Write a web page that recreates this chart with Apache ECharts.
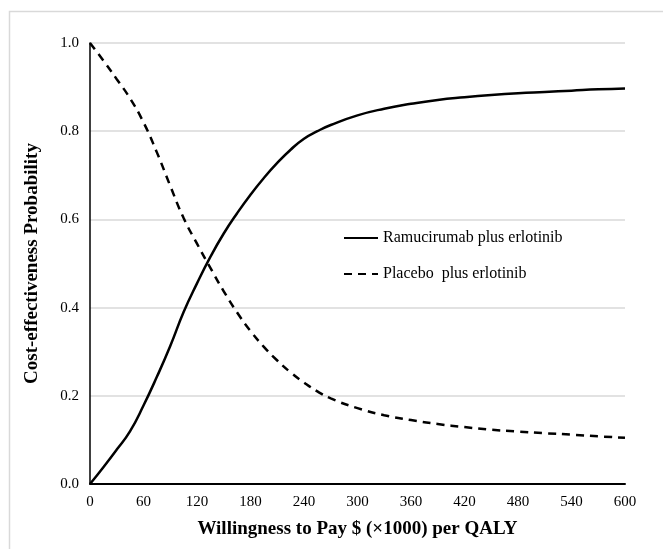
<!DOCTYPE html>
<html>
<head>
<meta charset="utf-8">
<script src="https://cdn.jsdelivr.net/npm/echarts@6/dist/echarts.min.js"></script>
<style>
html,body{margin:0;padding:0;background:#fff;}
#chart{width:663px;height:549px;}
</style>
</head>
<body>
<div id="chart"></div>
<script>
var wtp = [0,15,30,45,60,75,90,105,120,135,150,165,180,195,210,225,240,255,270,300,330,360,390,420,450,480,510,540,570,600];
var ramucirumab = [0,0.038,0.078,0.12,0.178,0.243,0.313,0.39,0.455,0.515,0.568,0.614,0.656,0.694,0.728,0.758,0.783,0.8,0.814,0.836,0.851,0.862,0.871,0.877,0.882,0.886,0.889,0.892,0.895,0.897];
var placebo = [1.0,0.96,0.918,0.874,0.82,0.752,0.676,0.603,0.545,0.49,0.437,0.389,0.347,0.311,0.28,0.253,0.23,0.21,0.194,0.172,0.156,0.145,0.136,0.129,0.123,0.119,0.115,0.112,0.108,0.105];
var seriesNames = ['Ramucirumab plus erlotinib', 'Placebo  plus erlotinib'];
var xTitle = 'Willingness to Pay $ (\u00d71000) per QALY';
var yTitle = 'Cost-effectiveness Probability';

function pairs(xs, ys){ return xs.map(function(x,i){ return [x, ys[i]]; }); }

var font = '"Liberation Serif", "Times New Roman", serif';
var chart = echarts.init(document.getElementById('chart'), null, {renderer:'canvas'});
chart.setOption({
  animation: false,
  backgroundColor: '#fff',
  graphic: [{
    type: 'rect', left: 7, top: 9, z: -10,
    shape: {x: 0, y: 0, width: 700, height: 600},
    style: {fill: 'none', stroke: '#d9d9d9', lineWidth: 1.5}
  }],
  grid: {left: 90, right: 38, top: 43, bottom: 65},
  legend: {
    orient: 'vertical', left: 338, top: 225,
    itemWidth: 34, itemHeight: 16, itemGap: 20,
    itemStyle: {opacity: 0},
    textStyle: {fontFamily: font, fontSize: 16, color: '#000'},
    data: seriesNames
  },
  xAxis: {
    type: 'value', min: 0, max: 600, interval: 60,
    name: xTitle, nameLocation: 'middle', nameGap: 36,
    nameTextStyle: {fontFamily: font, fontSize: 19, fontWeight: 'bold', color: '#000'},
    axisLine: {show: true, lineStyle: {color: '#000', width: 2}},
    axisTick: {show: false},
    splitLine: {show: false},
    axisLabel: {fontFamily: font, fontSize: 15, color: '#000', margin: 11}
  },
  yAxis: {
    type: 'value', min: 0, max: 1, interval: 0.2,
    name: yTitle, nameLocation: 'middle', nameGap: 48, nameRotate: 90,
    nameTextStyle: {fontFamily: font, fontSize: 19, fontWeight: 'bold', color: '#000'},
    axisLine: {show: true, lineStyle: {color: '#000', width: 1.5}},
    axisTick: {show: false},
    splitLine: {show: true, lineStyle: {color: '#d9d9d9', width: 1.5}},
    axisLabel: {fontFamily: font, fontSize: 15, color: '#000', margin: 11,
      formatter: function(v){ return v.toFixed(1); }}
  },
  series: [
    {
      name: seriesNames[0], type: 'line', smooth: 0.5, symbol: 'none',
      data: pairs(wtp, ramucirumab),
      lineStyle: {color: '#000', width: 2.5, type: 'solid'},
      itemStyle: {color: '#000'}
    },
    {
      name: seriesNames[1], type: 'line', smooth: 0.5, symbol: 'none',
      data: pairs(wtp, placebo),
      lineStyle: {color: '#000', width: 2.5, type: [8, 6]},
      itemStyle: {color: '#000'}
    }
  ]
});
</script>
</body>
</html>
